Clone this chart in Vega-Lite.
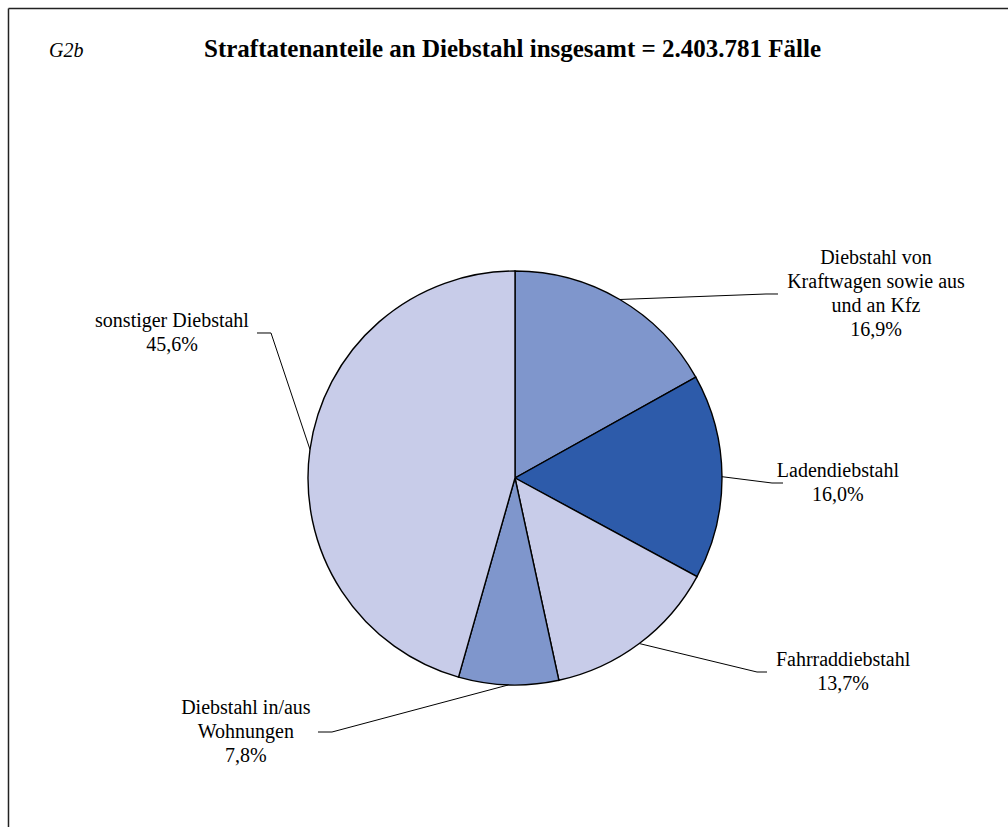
{
  "$schema": "https://vega.github.io/schema/vega-lite/v6.json",
  "width": 1008,
  "height": 827,
  "autosize": {"type": "none"},
  "padding": 0,
  "background": "white",
  "config": {"view": {"stroke": null}, "text": {"font": "Liberation Serif"}},
  "datasets": {
    "anteile": [
      {"nr": 1, "kategorie": "Diebstahl von Kraftwagen sowie aus und an Kfz", "beschriftung": "Diebstahl von\nKraftwagen sowie aus\nund an Kfz", "anteil": 16.9},
      {"nr": 2, "kategorie": "Ladendiebstahl", "beschriftung": "Ladendiebstahl", "anteil": 16.0},
      {"nr": 3, "kategorie": "Fahrraddiebstahl", "beschriftung": "Fahrraddiebstahl", "anteil": 13.7},
      {"nr": 4, "kategorie": "Diebstahl in/aus Wohnungen", "beschriftung": "Diebstahl in/aus\nWohnungen", "anteil": 7.8},
      {"nr": 5, "kategorie": "sonstiger Diebstahl", "beschriftung": "sonstiger Diebstahl", "anteil": 45.6}
    ],
    "rahmen": [{"teil": "Rahmen"}]
  },
  "layer": [
    {
      "data": {"name": "rahmen"},
      "mark": {"type": "rule", "stroke": "#222222", "strokeWidth": 1.5},
      "encoding": {
        "x": {"datum": -2.4469, "type": "quantitative", "scale": {"domain": [-2.48792, 2.38164], "nice": false, "zero": false}, "axis": null},
        "x2": {"datum": 2.39},
        "y": {"datum": 2.2681, "type": "quantitative", "scale": {"domain": [-1.68599, 2.30918], "nice": false, "zero": false}, "axis": null}
      }
    },
    {
      "data": {"name": "rahmen"},
      "mark": {"type": "rule", "stroke": "#222222", "strokeWidth": 1.5},
      "encoding": {
        "x": {"datum": -2.4469, "type": "quantitative", "scale": {"domain": [-2.48792, 2.38164], "nice": false, "zero": false}, "axis": null},
        "y": {"datum": 2.2681, "type": "quantitative", "scale": {"domain": [-1.68599, 2.30918], "nice": false, "zero": false}, "axis": null},
        "y2": {"datum": -1.7}
      }
    },
    {
      "data": {"name": "rahmen"},
      "mark": {"type": "text", "fontStyle": "italic", "fontSize": 20, "align": "left", "baseline": "alphabetic"},
      "encoding": {
        "x": {"datum": -2.2512, "type": "quantitative", "scale": {"domain": [-2.48792, 2.38164], "nice": false, "zero": false}, "axis": null},
        "y": {"datum": 2.0338, "type": "quantitative", "scale": {"domain": [-1.68599, 2.30918], "nice": false, "zero": false}, "axis": null},
        "text": {"value": "G2b"}
      }
    },
    {
      "data": {"name": "rahmen"},
      "mark": {"type": "text", "fontWeight": "bold", "fontSize": 25, "align": "center", "baseline": "alphabetic"},
      "encoding": {
        "x": {"datum": -0.0121, "type": "quantitative", "scale": {"domain": [-2.48792, 2.38164], "nice": false, "zero": false}, "axis": null},
        "y": {"datum": 2.0338, "type": "quantitative", "scale": {"domain": [-1.68599, 2.30918], "nice": false, "zero": false}, "axis": null},
        "text": {"value": "Straftatenanteile an Diebstahl insgesamt = 2.403.781 Fälle"}
      }
    },
    {
      "data": {"name": "anteile"},
      "transform": [
        {"window": [{"op": "sum", "field": "anteil", "as": "kum"}], "sort": [{"field": "nr"}], "frame": [null, 0]},
        {"joinaggregate": [{"op": "sum", "field": "anteil", "as": "summe"}]},
        {"calculate": "2 * PI * (datum.kum - datum.anteil / 2) / datum.summe", "as": "mitte"},
        {"calculate": "sin(datum.mitte)", "as": "sx"},
        {"calculate": "cos(datum.mitte)", "as": "sy"},
        {"calculate": "replace(format(datum.anteil, '.1f'), '.', ',') + '%'", "as": "prozent"},
        {"calculate": "datum.beschriftung + '\\n' + datum.prozent", "as": "etikett"},
        {"calculate": "[1.2126, 1.2415, 1.1691, -0.8841, -1.1787][datum.nr - 1]", "as": "bx"},
        {"calculate": "[0.8889, -0.0242, -0.9372, -1.2271, 0.7005][datum.nr - 1]", "as": "by"},
        {"calculate": "[1.2705, 1.2947, 1.2174, -0.9517, -1.2464][datum.nr - 1]", "as": "ex"},
        {"calculate": "[1.744, 1.560, 1.585, -1.300, -1.657][datum.nr - 1]", "as": "lx"},
        {"calculate": "datum.by + (length(split(datum.etikett, '\\n')) - 1) * 24 / 2 / 207", "as": "ly"}
      ],
      "layer": [
        {
          "mark": {"type": "arc", "radius": 207, "stroke": "#000000", "strokeWidth": 1.4},
          "encoding": {
            "theta": {"field": "anteil", "type": "quantitative", "stack": true},
            "order": {"field": "nr", "type": "quantitative", "sort": "ascending"},
            "color": {
              "field": "kategorie",
              "type": "nominal",
              "scale": {
                "domain": ["Diebstahl von Kraftwagen sowie aus und an Kfz", "Ladendiebstahl", "Fahrraddiebstahl", "Diebstahl in/aus Wohnungen", "sonstiger Diebstahl"],
                "range": ["#7F96CC", "#2D5BAA", "#C8CCE9", "#7F96CC", "#C8CCE9"]
              },
              "legend": null
            },
            "x": {"datum": 0, "type": "quantitative", "scale": {"domain": [-2.48792, 2.38164], "nice": false, "zero": false}, "axis": null},
            "y": {"datum": 0, "type": "quantitative", "scale": {"domain": [-1.68599, 2.30918], "nice": false, "zero": false}, "axis": null}
          }
        },
        {
          "mark": {"type": "rule", "stroke": "#000000", "strokeWidth": 1},
          "encoding": {
            "x": {"field": "sx", "type": "quantitative", "scale": {"domain": [-2.48792, 2.38164], "nice": false, "zero": false}, "axis": null},
            "y": {"field": "sy", "type": "quantitative", "scale": {"domain": [-1.68599, 2.30918], "nice": false, "zero": false}, "axis": null},
            "x2": {"field": "bx"},
            "y2": {"field": "by"}
          }
        },
        {
          "mark": {"type": "rule", "stroke": "#000000", "strokeWidth": 1},
          "encoding": {
            "x": {"field": "bx", "type": "quantitative", "scale": {"domain": [-2.48792, 2.38164], "nice": false, "zero": false}, "axis": null},
            "y": {"field": "by", "type": "quantitative", "scale": {"domain": [-1.68599, 2.30918], "nice": false, "zero": false}, "axis": null},
            "x2": {"field": "ex"}
          }
        },
        {
          "mark": {"type": "text", "fontSize": 20, "align": "center", "baseline": "middle", "lineBreak": "\n", "lineHeight": 24, "color": "#000000"},
          "encoding": {
            "x": {"field": "lx", "type": "quantitative", "scale": {"domain": [-2.48792, 2.38164], "nice": false, "zero": false}, "axis": null},
            "y": {"field": "ly", "type": "quantitative", "scale": {"domain": [-1.68599, 2.30918], "nice": false, "zero": false}, "axis": null},
            "text": {"field": "etikett"}
          }
        }
      ]
    }
  ]
}
